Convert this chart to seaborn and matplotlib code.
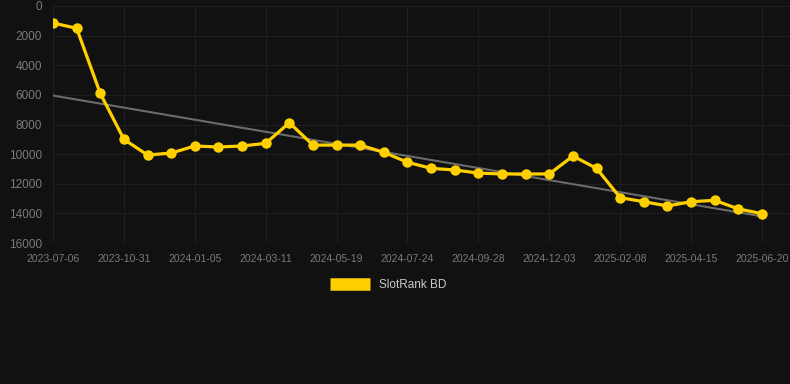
import numpy as np
import pandas as pd
import seaborn as sns
import matplotlib.pyplot as plt

# ranks, one per category slot
rank = [1150, 1500, 5900, 9000, 10060, 9930, 9450, 9520, 9450, 9270,
        7880, 9390, 9390, 9390, 9880, 10550, 10960, 11070, 11280, 11340,
        11340, 11340, 10130, 10960, 12940, 13210, 13500, 13210, 13120,
        13700, 14020]
# only every third category carries a label
tick_labels = ['2023-07-06', '2023-10-31', '2024-01-05', '2024-03-11', '2024-05-19',
               '2024-07-24', '2024-09-28', '2024-12-03', '2025-02-08', '2025-04-15',
               '2025-06-20']
y_ticks = [0, 2000, 4000, 6000, 8000, 10000, 12000, 14000, 16000]

df = pd.DataFrame({'idx': np.arange(len(rank)), 'rank': rank})

# linear trend
k, b = np.polyfit(df['idx'], df['rank'], 1)
df['trend'] = k * df['idx'] + b

sns.set_style('dark')
plt.rcParams['font.family'] = ['Liberation Sans', 'DejaVu Sans']

fig = plt.figure(figsize=(7.9, 3.84), dpi=100, facecolor='#111111')
ax = fig.add_axes([53/790, 1 - 243/384, (790 - 53)/790, (243 - 6)/384])
ax.set_facecolor('#111111')

sns.lineplot(data=df, x='idx', y='trend', ax=ax, color='#6b6b6b', linewidth=1.5)
sns.lineplot(data=df, x='idx', y='rank', ax=ax, color='#ffd000', linewidth=2.3,
             marker='o', markersize=7.5, markeredgewidth=0, label='SlotRank BD')

ax.set_ylim(16000, 0)
ax.set_xlim(0, 30 + 28/23.63)
ax.set_yticks(y_ticks)
ax.set_yticklabels([str(v) for v in y_ticks])
ax.set_xticks(np.arange(0, len(rank), 3))
ax.set_xticklabels(tick_labels)
ax.grid(True, color='#1f1f1f', linewidth=0.8)
for s in ax.spines.values():
    s.set_visible(False)
ax.axhline(16000, color='#2a2a2a', linewidth=1)
ax.tick_params(axis='y', colors='#7a7a7a', labelsize=8.5, length=0, pad=8)
ax.tick_params(axis='x', colors='#2a2a2a', labelcolor='#7a7a7a', labelsize=7.5, length=5, pad=3)
ax.set_xlabel('')
ax.set_ylabel('')

leg = ax.legend(loc='center', bbox_to_anchor=(388/790, 1 - 285/384), bbox_transform=fig.transFigure,
                frameon=False, handlelength=3.4, handleheight=0.9, fontsize=8.5, labelcolor='#cccccc')
for h in leg.legend_handles:
    h.set_marker('')
    h.set_linewidth(9)
    h.set_solid_capstyle('butt')

fig.savefig('out.png', dpi=100, facecolor='#111111')
